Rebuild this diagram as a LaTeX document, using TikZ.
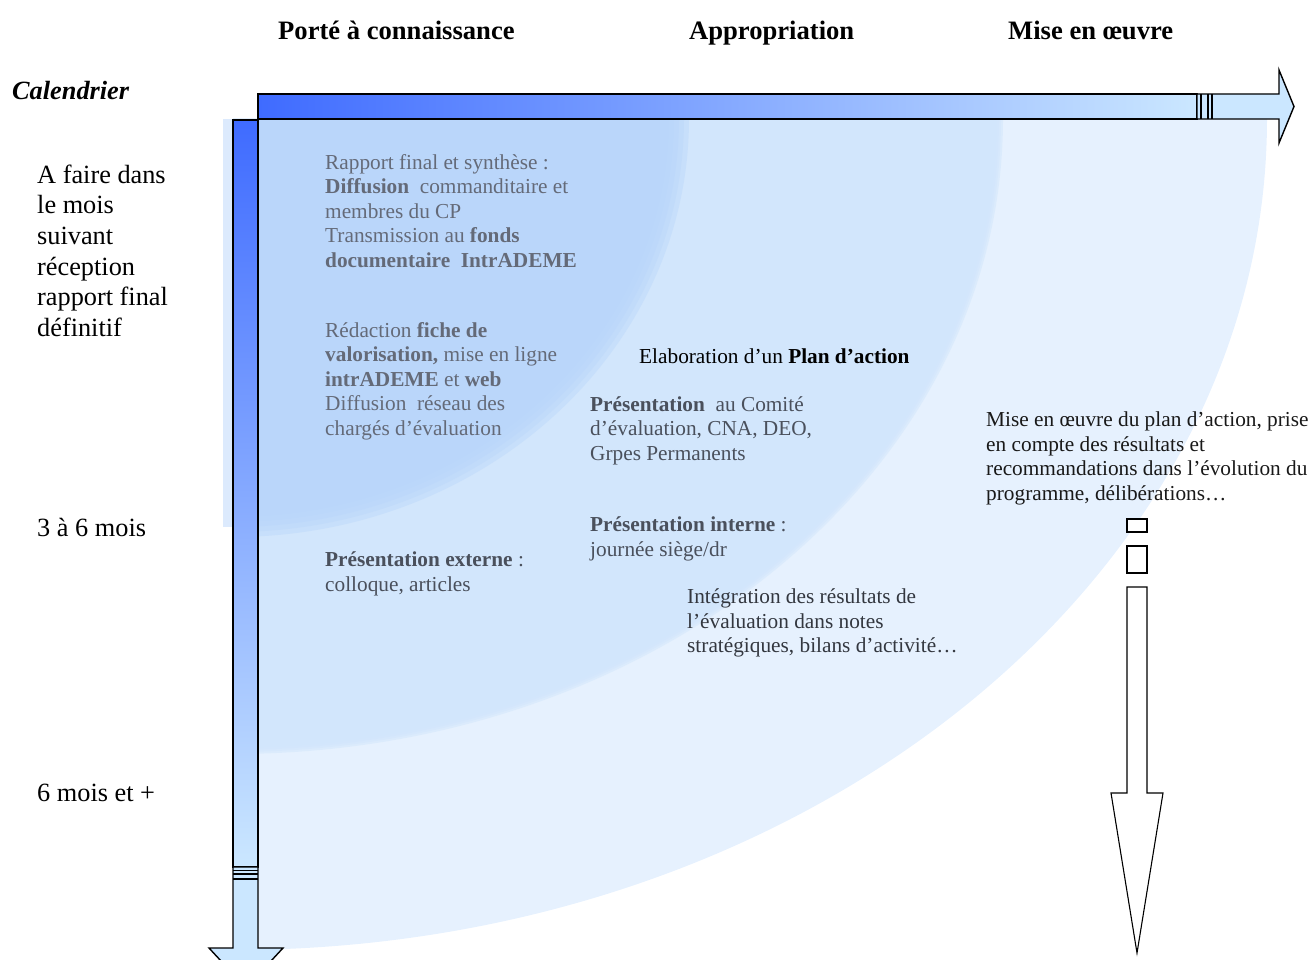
\documentclass[tikz,border=0pt]{standalone}
\usepackage{fontspec}
\setmainfont{Liberation Serif}
\definecolor{regA}{HTML}{B9D6FA}
\definecolor{regB}{HTML}{D2E6FC}
\definecolor{regC}{HTML}{E6F1FE}
\definecolor{stripC}{HTML}{DCEAFD}
\definecolor{arrDark}{HTML}{3F6BFF}
\definecolor{arrLight}{HTML}{CBE7FF}
\definecolor{txtA}{HTML}{646A78}
\definecolor{txtB}{HTML}{4A505C}
\definecolor{txtC}{HTML}{33373F}
\tikzset{
  lbl/.style={anchor=north west, inner sep=0pt, align=left, font=\fontsize{26.3pt}{30.6pt}\selectfont},
  txt/.style={anchor=north west, inner sep=0pt, align=left, font=\fontsize{21.3pt}{24.5pt}\selectfont},
  txtline/.style={anchor=base west, inner sep=0pt, font=\fontsize{21.3pt}{24.5pt}\selectfont},
  headlbl/.style={anchor=base west, inner sep=0pt, font=\fontsize{26.6pt}{30pt}\selectfont\bfseries},
  outl/.style={draw=black, line width=1.4pt, line join=miter},
  thinoutl/.style={draw=black, line width=1.1pt, line join=miter, fill=white},
}
\begin{document}
\begin{tikzpicture}[x=1pt,y=-1pt]
\useasboundingbox (0,0) rectangle (1312,960);
\clip (0,0) rectangle (1312,960);
% background regions (quarter ellipses)
\fill[regC] (233,119) -- (1267,119) arc[start angle=0,end angle=90,x radius=1034,y radius=831] -- cycle;
\foreach \d in {-4,-2,0,2,4}{
  \fill[regB, fill opacity=0.5] (233,119) -- ({999+\d},119) arc[start angle=0,end angle=90,x radius={766+\d},y radius={631+\d}] -- cycle;
}
\foreach \d in {-10,-5,0,5,10}{
  \fill[regA, fill opacity=0.42] (233,119) -- ({679+\d},119) arc[start angle=0,end angle=90,x radius={446+\d},y radius={408+\d}] -- cycle;
}
\fill[stripC] (223,119) rectangle (233,527);
% horizontal arrow
\shade[left color=arrDark, right color=arrLight] (258,94) rectangle (1197,119);
\draw[outl] (258,94) rectangle (1197,119);
\draw[outl, fill=arrLight] (1197,94) -- (1279,94) -- (1279,70) -- (1294,106.5) -- (1279,143) -- (1279,119) -- (1197,119) -- cycle;
\draw[outl] (1201,94) -- (1201,119) (1208,94) -- (1208,119) (1212,94) -- (1212,119);
% vertical arrow
\shade[top color=arrDark, bottom color=arrLight] (233,120) rectangle (258,867);
\draw[outl] (233,120) rectangle (258,867);
\draw[outl, fill=arrLight] (233,867) -- (258,867) -- (258,948) -- (283,948) -- (246,988) -- (209,948) -- (233,948) -- cycle;
\draw[outl] (233,870.5) -- (258,870.5) (233,874) -- (258,874) (233,879) -- (258,879);
% small downward arrow
\draw[thinoutl] (1127,519) rectangle (1147,532);
\draw[thinoutl] (1127,546) rectangle (1147,573);
\draw[thinoutl] (1127,587) -- (1147,587) -- (1147,793) -- (1163,793) -- (1137,953) -- (1111,793) -- (1127,793) -- cycle;
% headings
\node[headlbl] (h1) at (278,40) {Porté à connaissance};
\node[headlbl] (h2) at (689,40) {Appropriation};
\node[headlbl] (h3) at (1008,40) {Mise en œuvre};
\node[anchor=base west, inner sep=0pt, font=\fontsize{26.3pt}{30pt}\selectfont\bfseries\itshape] (cal) at (12,100) {Calendrier};
% left calendar labels
\node[lbl] (t1) at (37,161.6) {\strut A faire dans\\le mois\\suivant\\réception\\rapport final\\définitif};
\node[lbl, anchor=base west] (t2) at (37,536) {3 à 6 mois};
\node[lbl, anchor=base west] (t3) at (37,801) {6 mois et +};
% texts
\node[txt, text=txtA] (rap) at (325,151.9) {\strut Rapport final et synthèse :\\\textbf{Diffusion}\ \ commanditaire et\\membres du CP\\Transmission au \textbf{fonds}\\\textbf{documentaire\ \ IntrADEME}};
\node[txt, text=txtA] (red) at (325,319.9) {\strut Rédaction \textbf{fiche de}\\\textbf{valorisation,} mise en ligne\\\textbf{intrADEME} et \textbf{web}\\Diffusion\ \ réseau des\\chargés d’évaluation};
\node[txtline, text=black] (ela) at (639,363.5) {Elaboration d’un \textbf{Plan d’action}};
\node[txt, text=txtB] (pco) at (590,393.9) {\strut\textbf{Présentation}\ \ au Comité\\d’évaluation, CNA, DEO,\\Grpes Permanents};
\node[txt, text=txtB] (pin) at (590,514.4) {\strut\textbf{Présentation interne} :\\journée siège/dr};
\node[txt, text=txtB] (pex) at (325,549.4) {\strut\textbf{Présentation externe} :\\colloque, articles};
\node[txt, text=txtC] (int) at (687,586.4) {\strut Intégration des résultats de\\l’évaluation dans notes\\stratégiques, bilans d’activité…};
\node[txt, text=black!90] (mise) at (986,409.4) {\strut Mise en œuvre du plan d’action, prise\\en compte des résultats et\\recommandations dans l’évolution du\\programme, délibérations…};
\end{tikzpicture}
\end{document}
